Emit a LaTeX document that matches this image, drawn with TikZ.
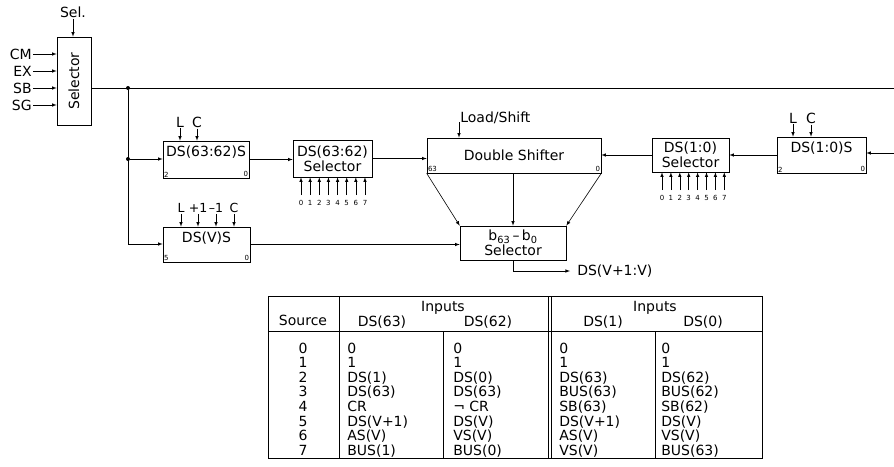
\documentclass[tikz,border=0pt]{standalone}
\usepackage{fontspec}
\setmainfont{DejaVu Sans}
\usetikzlibrary{arrows, positioning}
\tikzset{
  >=latex, % small filled arrow heads
  % every text node gets the same sans font
  txt/.style={font=\fontsize{14}{15}\selectfont, inner sep=1pt},
  tiny/.style={font=\fontsize{7}{8}\selectfont, inner sep=1pt},
}

\begin{document}
\begin{tikzpicture}[x=1pt, y=-1pt, line width=0.6pt,
    box/.style={draw, inner sep=0pt, align=center, font=\fontsize{14}{15}\selectfont},
    dot/.style={circle, fill, inner sep=0pt, minimum size=4pt}]

  \useasboundingbox (0,0) rectangle (894,466);

  % source selector
  \node[box, minimum width=34pt, minimum height=88pt] (sel) at (74,81) {};
  \node[txt, rotate=90] (selt) at (sel) {Selector};
  \node[txt] (selin) at (73,12) {Sel.};
  \draw[->] (selin) -- (selin |- sel.north);
  \foreach \src/\y in {CM/54, EX/71, SB/88, SG/105}
    {\node[txt, anchor=east] (\src) at (33,\y) {\src};
     \draw[->] (\src) -- (\src -| sel.west);}

  \coordinate (busend) at (894,88);
  \coordinate (jv) at (128,244);
  \node[dot] (j1) at (128,88) {};
  \node[dot] (j2) at (128,159) {};
  \draw (sel.east |- busend) -- (busend);
  \draw (j1) -- (jv);

  % DS(63:62)S
  \node[box, minimum width=86pt, minimum height=37pt] (ds6362s) at (206,159.5) {};
  \node[txt, below=4pt of ds6362s.north] (ds6362st) {DS(63:62)S};
  \node[tiny, anchor=south west] (ds6362sa) at (ds6362s.south west) {2};
  \node[tiny, anchor=south east] (ds6362sb) at (ds6362s.south east) {0};
  \foreach \t/\x in {L/180, C/197}
    {\node[txt] (hi\t) at (\x,122) {\t};
     \draw[->] (hi\t) -- (hi\t |- ds6362s.north);}
  \draw[->] (j2) -- (j2 -| ds6362s.west);

  % DS(63:62) Selector
  \node[box, minimum width=79pt, minimum height=37pt] (ds6362sel) at (332.5,158.5) {DS(63:62)\\Selector};
  \foreach \i in {0,...,7}
    {\node[tiny] (hsrc\i) at ({301+9.14*\i},203) {\i};
     \draw[->, shorten <=4pt] (hsrc\i) -- (hsrc\i |- ds6362sel.south);}
  \draw[->] (ds6362s) -- (ds6362s -| ds6362sel.west);

  % Double Shifter
  \node[box, minimum width=174pt, minimum height=35pt] (dshift) at (514,155.5) {Double Shifter};
  \node[tiny, anchor=south west] (dshifta) at (dshift.south west) {63};
  \node[tiny, anchor=south east] (dshiftb) at (dshift.south east) {0};
  \node[txt, anchor=base west] (load) at (459,122) {Load/Shift};
  \draw[->] (load.base west) -- (load.base west |- dshift.north);
  \draw[->] (ds6362sel) -- (ds6362sel -| dshift.west);

  % b63-b0 Selector
  \node[box, minimum width=106pt, minimum height=34pt] (bsel) at (513,243) {b\textsubscript{63}\,--\,b\textsubscript{0}\\Selector};
  \draw[->] (dshift.south west) -- (bsel.north west);
  \draw[->] (dshift.south east) -- (bsel.north east);
  \draw[->] (bsel.north |- dshift.south) -- (bsel.north);
  \node[txt, anchor=west] (dsout) at (576,271) {DS(V+1:V)};
  \draw[->, shorten >=6pt] (bsel.south) |- (dsout.west);

  % DS(V)S
  \node[box, minimum width=87pt, minimum height=35pt] (dsvs) at (206.5,244.5) {};
  \node[txt, below=4pt of dsvs.north] (dsvst) {DS(V)S};
  \node[tiny, anchor=south west] (dsvsa) at (dsvs.south west) {5};
  \node[tiny, anchor=south east] (dsvsb) at (dsvs.south east) {0};
  \foreach \t/\x [count=\k] in {L/181, +1/198, –1/216, C/234}
    {\node[txt, font=\fontsize{12.5}{14}\selectfont] (vctl\k) at (\x,208) {\t};
     \draw[->] (vctl\k) -- (vctl\k |- dsvs.north);}
  \draw[->] (jv) -- (jv -| dsvs.west);
  \draw[->] (dsvs) -- (dsvs -| bsel.west);

  % DS(1:0) Selector
  \node[box, minimum width=77pt, minimum height=34pt] (dsel10) at (690.5,155) {DS(1:0)\\Selector};
  \foreach \i in {0,...,7}
    {\node[tiny] (lsrc\i) at ({662+8.9*\i},198) {\i};
     \draw[->, shorten <=4pt] (lsrc\i) -- (lsrc\i |- dsel10.south);}
  \draw[->] (dsel10) -- (dsel10 -| dshift.east);

  % DS(1:0)S
  \node[box, minimum width=89pt, minimum height=36pt] (ds10s) at (821.5,155) {};
  \node[txt, below=4pt of ds10s.north] (ds10st) {DS(1:0)S};
  \node[tiny, anchor=south west] (ds10sa) at (ds10s.south west) {2};
  \node[tiny, anchor=south east] (ds10sb) at (ds10s.south east) {0};
  \foreach \t/\x in {L/793, C/811}
    {\node[txt] (lo\t) at (\x,118) {\t};
     \draw[->] (lo\t) -- (lo\t |- ds10s.north);}
  \coordinate (rin) at (894,153);
  \draw[->] (ds10s) -- (ds10s -| dsel10.east);
  \draw[->] (rin) -- (rin -| ds10s.east);

  % source table
  \draw (268,296) rectangle (762,458);
  \draw (268,331) -- (762,331);
  \draw (339,296) -- (339,458);
  \draw (443,331) -- (443,458);
  \draw (548,296) -- (548,458);
  \draw (551,296) -- (551,458);
  \draw (655,331) -- (655,458);
  \node[txt, anchor=base] (hsource) at (303,325) {Source};
  \node[txt, anchor=base] (hinhi) at (443,311) {Inputs};
  \node[txt, anchor=base] (hds63) at (382,326) {DS(63)};
  \node[txt, anchor=base] (hds62) at (488,326) {DS(62)};
  \node[txt, anchor=base] (hinlo) at (655,311) {Inputs};
  \node[txt, anchor=base] (hds1) at (603,326) {DS(1)};
  \node[txt, anchor=base] (hds0) at (703,326) {DS(0)};
  \foreach \s/\a/\b/\c/\d [count=\k from 0] in
    {0/0/0/0/0, 1/1/1/1/1, 2/DS(1)/DS(0)/DS(63)/DS(62),
     3/DS(63)/DS(63)/BUS(63)/BUS(62), 4/CR/¬ CR/SB(63)/SB(62),
     5/DS(V+1)/DS(V)/DS(V+1)/DS(V), 6/AS(V)/VS(V)/AS(V)/VS(V),
     7/BUS(1)/BUS(0)/VS(V)/BUS(63)}
    {\node[txt, anchor=base] (src\k) at (303,{353+14.6*\k}) {\s};
     \node[txt, anchor=base west] (ina\k) at (346,{353+14.6*\k}) {\a};
     \node[txt, anchor=base west] (inb\k) at (452,{353+14.6*\k}) {\b};
     \node[txt, anchor=base west] (inc\k) at (558,{353+14.6*\k}) {\c};
     \node[txt, anchor=base west] (ind\k) at (660,{353+14.6*\k}) {\d};}
\end{tikzpicture}
\end{document}
